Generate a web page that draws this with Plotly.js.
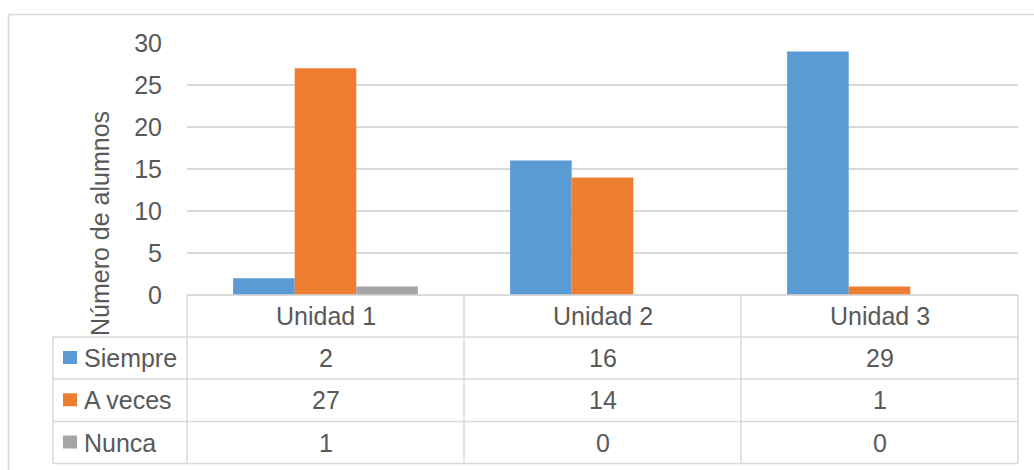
<!DOCTYPE html>
<html>
<head>
<meta charset="utf-8">
<script src="https://cdn.plot.ly/plotly-3.0.1.min.js"></script>
<style>html,body{margin:0;padding:0;background:#fff;}#chart{width:1034px;height:470px;}</style>
</head>
<body>
<div id="chart"></div>
<script>
const categories = ['Unidad 1', 'Unidad 2', 'Unidad 3'];
const seriesNames = ['Siempre', 'A veces', 'Nunca'];
const siempre = [2, 16, 29];
const aVeces = [27, 14, 1];
const nunca = [1, 0, 0];
const yTitle = 'Número de alumnos';

const seriesValues = [siempre, aVeces, nunca];
const colors = ['#5B9BD5', '#ED7D31', '#A5A5A5'];
const FONT = '"Liberation Sans", Arial, sans-serif';
const TXT = '#595959';
const LINE = '#D9D9D9';

const W = 1034, H = 470;
const M = {l: 187, r: 16, t: 43, b: 175};
const PW = W - M.l - M.r, PH = H - M.t - M.b;
const px = v => (v - M.l) / PW;
const py = v => (H - M.b - v) / PH;

const rowLines = [295, 337, 379, 421.5, 463.5];
const tableLeft = 53;

const traces = seriesNames.map((n, i) => ({
  type: 'bar', name: n, x: categories, y: seriesValues[i],
  marker: {color: colors[i]}, hoverinfo: 'skip'
}));

const shapes = [];
const ln = (x0, y0, x1, y1) => shapes.push({type: 'line', xref: 'paper', yref: 'paper',
  x0: px(x0), y0: py(y0), x1: px(x1), y1: py(y1), line: {color: LINE, width: 1.5}});
// outer border
shapes.push({type: 'rect', xref: 'paper', yref: 'paper', x0: px(8.5), y0: py(14.5), x1: px(1045), y1: py(485),
  line: {color: LINE, width: 1.5}, layer: 'below'});
// table horizontal lines
ln(M.l, rowLines[0], W - M.r, rowLines[0]);
for (let r = 1; r < rowLines.length; r++) ln(tableLeft, rowLines[r], W - M.r, rowLines[r]);
// table vertical lines
ln(tableLeft, rowLines[1], tableLeft, rowLines[rowLines.length - 1]);
for (let c = 0; c <= categories.length; c++) {
  const xv = M.l + PW * c / categories.length;
  ln(xv, rowLines[0], xv, rowLines[rowLines.length - 1]);
}

const annotations = [];
const font = {family: FONT, size: 25, color: TXT};
// category header
categories.forEach(c => annotations.push({xref: 'x', yref: 'paper', x: c,
  y: py((rowLines[0] + rowLines[1]) / 2), text: c, showarrow: false, font,
  xanchor: 'center', yanchor: 'middle'}));
// rows
seriesNames.forEach((n, i) => {
  const cy = (rowLines[i + 1] + rowLines[i + 2]) / 2;
  shapes.push({type: 'rect', xref: 'paper', yref: 'paper', x0: px(63), x1: px(77),
    y0: py(cy - 7), y1: py(cy + 6), fillcolor: colors[i], line: {width: 0}});
  annotations.push({xref: 'paper', yref: 'paper', x: px(82), y: py(cy), text: n,
    showarrow: false, font, xanchor: 'left', yanchor: 'middle'});
  categories.forEach((c, j) => annotations.push({xref: 'x', yref: 'paper', x: c, y: py(cy),
    text: String(seriesValues[i][j]), showarrow: false, font, xanchor: 'center', yanchor: 'middle'}));
});
// y title
annotations.push({xref: 'paper', yref: 'paper', x: px(100), y: py(224), text: yTitle,
  textangle: -90, showarrow: false, font, xanchor: 'center', yanchor: 'middle'});

const layout = {
  width: W, height: H, margin: M, showlegend: false,
  paper_bgcolor: '#fff', plot_bgcolor: '#fff',
  barmode: 'group', bargap: 0.333, bargroupgap: 0,
  font: {family: FONT, color: TXT},
  xaxis: {range: [-0.5, 2.5], showticklabels: false, showgrid: false, zeroline: false, showline: false, fixedrange: true},
  yaxis: {range: [0, 30], dtick: 5, tick0: 0, showgrid: true, gridcolor: LINE, gridwidth: 1.5,
    zeroline: true, zerolinecolor: LINE, zerolinewidth: 1.5, showline: false, ticks: '',
    ticklabelstandoff: 24, tickfont: font, fixedrange: true},
  shapes, annotations
};
Plotly.newPlot('chart', traces, layout, {staticPlot: true, displayModeBar: false});
</script>
</body>
</html>
